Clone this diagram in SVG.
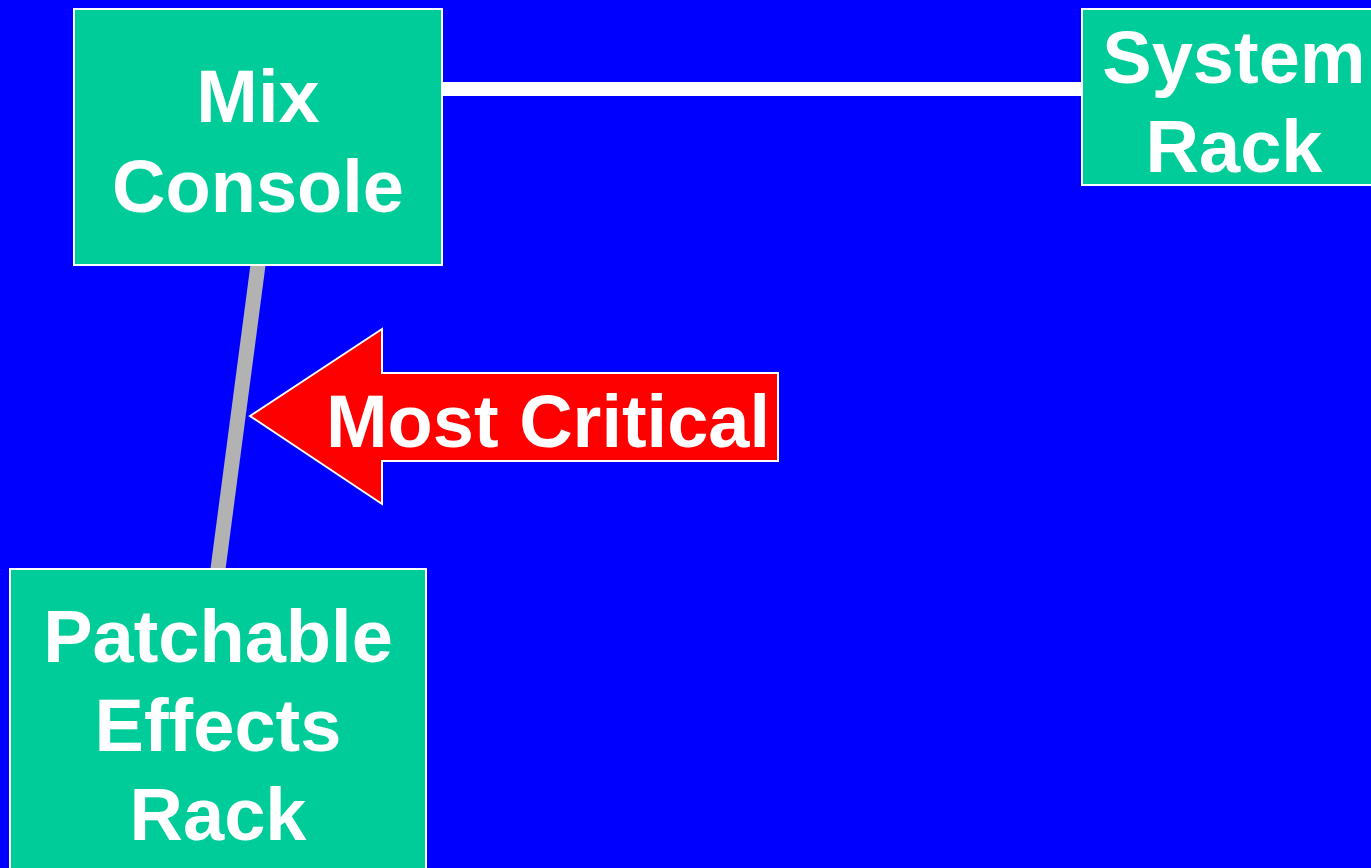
<svg xmlns="http://www.w3.org/2000/svg" width="1371" height="868" viewBox="0 0 1371 868">
<style>
.box{fill:#00cc99;stroke:#ffffff;stroke-width:2}
.lbl{font-family:"Liberation Sans",Arial,sans-serif;font-weight:bold;font-size:74px;fill:#ffffff;text-anchor:middle}
</style>
<rect x="0" y="0" width="1371" height="868" fill="#0000ff"/>
<g id="connectors">
<line x1="442" y1="89" x2="1082" y2="89" stroke="#ffffff" stroke-width="14"/>
<line x1="258" y1="265" x2="218" y2="569" stroke="#b2b2b2" stroke-width="15"/>
</g>
<g id="mix-console">
<rect class="box" x="74" y="9" width="368" height="256"/>
<text class="lbl" x="258" y="122">Mix</text>
<text class="lbl" x="258" y="212">Console</text>
</g>
<g id="system-rack">
<rect class="box" x="1082" y="9" width="310" height="176"/>
<text class="lbl" x="1234" y="83">System</text>
<text class="lbl" x="1234" y="172">Rack</text>
</g>
<g id="patchable-effects-rack">
<rect class="box" x="10" y="569" width="416" height="310"/>
<text class="lbl" x="218" y="662">Patchable</text>
<text class="lbl" x="218" y="751">Effects</text>
<text class="lbl" x="218" y="840">Rack</text>
</g>
<g id="most-critical">
<polygon points="250,416 382,329 382,373 778,373 778,461 382,461 382,504" fill="#ff0000" stroke="#ffffff" stroke-width="2"/>
<text class="lbl" x="548" y="447">Most Critical</text>
</g>
</svg>
